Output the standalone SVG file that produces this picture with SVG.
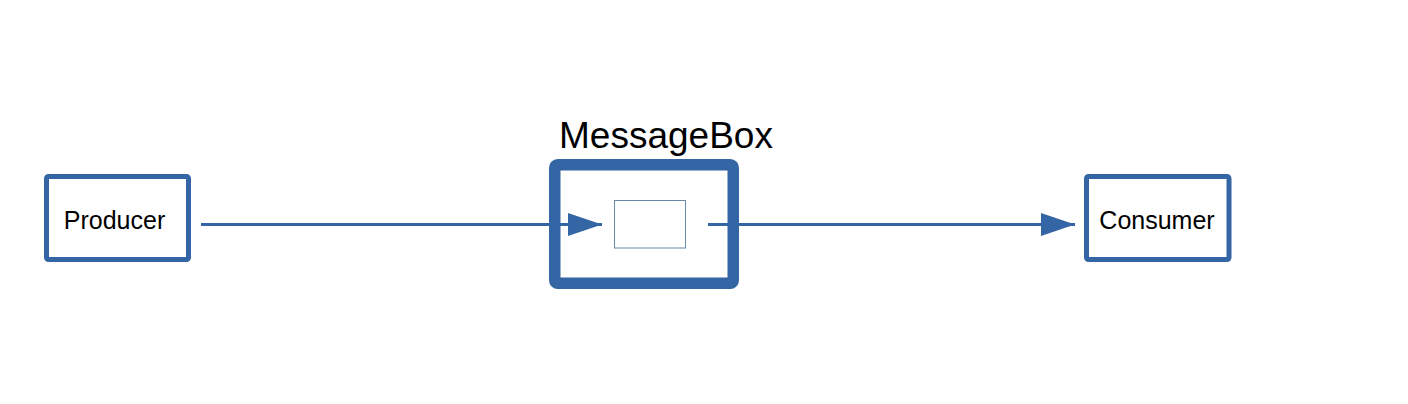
<svg xmlns="http://www.w3.org/2000/svg" width="1408" height="404" viewBox="0 0 1408 404">
<style>
.node{fill:#ffffff;stroke:#3465a4;stroke-width:5}
.lbl{font-family:"Liberation Sans",Arial,sans-serif;font-size:25px;fill:#000000;text-anchor:middle}
.edge{stroke:#3465a4;stroke-width:3;fill:none}
</style>
<defs>
<marker id="arr" markerUnits="userSpaceOnUse" markerWidth="36" markerHeight="26" refX="34" refY="11.5" orient="auto">
<path d="M0,0 L34,11.5 L0,23 Z" fill="#3465a4"/>
</marker>
</defs>
<rect width="1408" height="404" fill="#ffffff"/>
<g id="producer">
<rect class="node" x="46.5" y="176.5" width="142" height="83" rx="2"/>
<text class="lbl" x="114.5" y="229">Producer</text>
</g>
<g id="messagebox">
<rect x="554.75" y="164.75" width="178.5" height="118.5" rx="3" fill="#ffffff" stroke="#3465a4" stroke-width="11.5"/>
<rect x="614.5" y="200.5" width="71" height="47.5" fill="#ffffff" stroke="#6a88a8" stroke-width="1"/>
<text x="666" y="148" font-family="'Liberation Sans',Arial,sans-serif" font-size="37" fill="#000000" text-anchor="middle">MessageBox</text>
</g>
<g id="consumer">
<rect class="node" x="1086.5" y="176.5" width="142.5" height="83" rx="2"/>
<text class="lbl" x="1157" y="229">Consumer</text>
</g>
<g id="connectors">
<line class="edge" x1="201" y1="224.5" x2="602" y2="224.5" marker-end="url(#arr)"/>
<line class="edge" x1="708" y1="224.5" x2="1075" y2="224.5" marker-end="url(#arr)"/>
</g>
</svg>
